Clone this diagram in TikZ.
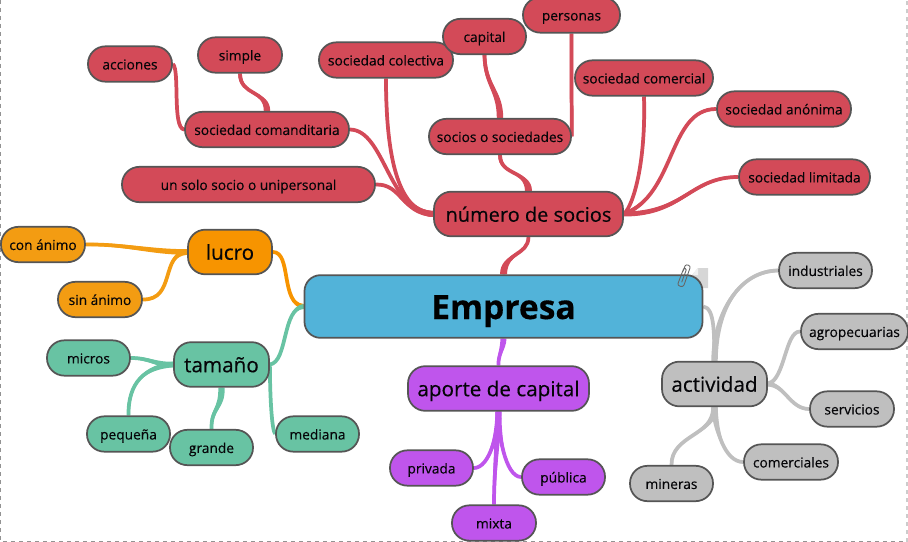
\documentclass[tikz,border=0pt]{standalone}
\usepackage{fontspec}
\setmainfont{Open Sans}[FakeBold=0.3]
\usetikzlibrary{calc,backgrounds}
\definecolor{cred}{HTML}{D34A58}
\definecolor{corg}{HTML}{F79400}
\definecolor{corgs}{HTML}{F39C12}
\definecolor{cgrn}{HTML}{68C3A3}
\definecolor{cpur}{HTML}{BF55EC}
\definecolor{cgry}{HTML}{BFBFBF}
\definecolor{cblu}{HTML}{52B3D9}
\definecolor{cbrd}{HTML}{555555}
\definecolor{ctxt}{HTML}{050508}
\newcommand{\tap}[7]{\fill[#7] ($(#1)+#5$) .. controls ($#3+#5$) and ($#4+#6$) .. ($(#2)+#6$) -- ($(#2)-#6$) .. controls ($#4-#6$) and ($#3-#5$) .. ($(#1)-#5$) -- cycle;
\draw[#7,line width=2.8pt] (#1) .. controls #3 and #4 .. (#2);}
\tikzset{
 x=0.75pt,y=-0.75pt,
 box/.style={draw=cbrd,line width=1.3pt,text=ctxt,inner sep=0pt,align=center},
 small/.style={box,rounded corners=13pt,font=\fontsize{10.3pt}{12pt}\selectfont,minimum height=26.5pt,text height=9pt,text depth=0.8pt},
 big/.style={box,rounded corners=13pt,font=\fontsize{15.5pt}{18pt}\selectfont,minimum height=33.5pt,text height=12.6pt,text depth=1pt},
 sw/.style={minimum width=#1*0.75pt},
}
\begin{document}
\begin{tikzpicture}
\useasboundingbox (0,0) rectangle (908,542);
\draw[gray!85,line width=0.8pt,dashed] (0.5,0) -- (0.5,541.5) -- (907,541.5);
\draw[gray!40,line width=0.8pt,dashed] (907,541.5) -- (907,0);
% paper note
\fill[gray!32] (698,268) -- (708,268) -- (708,288) -- (692,288) -- (692,275) -- cycle;
\fill[gray!12] (692,275) -- (698,268) -- (698,275) -- cycle;
% main
\node[box,fill=cblu,rounded corners=12pt,minimum width=298.5pt,minimum height=47pt,font=\fontsize{25.2pt}{28pt}\selectfont\bfseries,text=black,text height=20pt,text depth=1.2pt] (emp) at (503.5,306.5) {Empresa};
% level 1
\node[big,fill=cred,sw=189,font=\fontsize{15pt}{18pt}\selectfont] (num) at (528.5,214) {número de socios};
\node[big,fill=corg,sw=84] (luc) at (230,252) {lucro};
\node[big,fill=cgrn,sw=95] (tam) at (221.5,364.5) {tamaño};
\node[big,fill=cpur,sw=181] (apo) at (498.5,388.5) {aporte de capital};
\node[big,fill=cgry,sw=105] (act) at (714.5,384) {actividad};
% red
\node[small,fill=cred,sw=84] (acc) at (130,64) {acciones};
\node[small,fill=cred,sw=84] (sim) at (240,55) {simple};
\node[small,fill=cred,sw=164] (com) at (267,129.5) {sociedad comanditaria};
\node[small,fill=cred,sw=253] (uni) at (248.5,184.5) {un solo socio o unipersonal};
\node[small,fill=cred,sw=134] (col) at (386,60) {sociedad colectiva};
\node[small,fill=cred,sw=83] (cap) at (484.5,36.5) {capital};
\node[small,fill=cred,sw=97] (per) at (571.5,15) {personas};
\node[small,fill=cred,sw=142] (soc) at (500,136.5) {socios o sociedades};
\node[small,fill=cred,sw=138] (cmr) at (644,78) {sociedad comercial};
\node[small,fill=cred,sw=134] (ano) at (784,109) {sociedad anónima};
\node[small,fill=cred,sw=131] (lim) at (804.5,177) {sociedad limitada};
% orange
\node[small,fill=corgs,sw=84] (con) at (43,244.5) {con ánimo};
\node[small,fill=corgs,sw=84] (sin) at (100,299.5) {sin ánimo};
% green
\node[small,fill=cgrn,sw=83] (mic) at (88.5,358) {micros};
\node[small,fill=cgrn,sw=83] (peq) at (128.5,434) {pequeña};
\node[small,fill=cgrn,sw=83] (gra) at (211.5,447.5) {grande};
\node[small,fill=cgrn,sw=83] (med) at (317.5,434) {mediana};
% purple
\node[small,fill=cpur,sw=83] (pri) at (431.5,468) {privada};
\node[small,fill=cpur,sw=83] (pub) at (563.5,477) {pública};
\node[small,fill=cpur,sw=84] (mix) at (494,523) {mixta};
% grey
\node[small,fill=cgry,sw=93] (ind) at (825.5,270.5) {industriales};
\node[small,fill=cgry,sw=107] (agr) at (854.5,331.5) {agropecuarias};
\node[small,fill=cgry,sw=84] (ser) at (852,409) {servicios};
\node[small,fill=cgry,sw=94] (cme) at (791,462) {comerciales};
\node[small,fill=cgry,sw=83] (min) at (671.5,483.5) {mineras};
% paperclip
\draw[black!60,line width=0.65pt,line join=round] (681.7,282.3) -- (686.2,270) .. controls (686.7,268.5) and (684,267.5) .. (683.5,269) -- (678,283.5) .. controls (677,286) and (683,288) .. (684,285) -- (690,268) .. controls (691,265.5) and (686,263.5) .. (685,266) -- (683,271.5);
\begin{scope}[on background layer]
\tap{num.south}{emp.north}{(528,256)}{(504,252)}{(1.5,0)}{(3.5,0)}{cred}
\tap{luc.east}{emp.west}{(292,252)}{(280,304)}{(0,0.8)}{(0,2.5)}{corg}
\tap{tam.east}{emp.west}{(288,362)}{(282,308)}{(0,0.8)}{(0,2.5)}{cgrn}
\tap{apo.north}{emp.south}{(498,355)}{(503,350)}{(1,0)}{(3,0)}{cpur}
\tap{act.north}{emp.east}{(714,335)}{(715,308)}{(2,0)}{(0,0.8)}{cgry}
\tap{soc.south}{num.north}{(500,176)}{(528,170)}{(1.8,0)}{(3.5,0)}{cred}
\tap{cap.south}{soc.north}{(485,86)}{(500,90)}{(1.8,0)}{(3.2,0)}{cred}
\tap{per.south}{soc.east}{(571.5,70)}{(571.5,100)}{(1.6,0)}{(1.6,0)}{cred}
\tap{col.south}{num.west}{(386,150)}{(396,212)}{(1.5,0)}{(0,3)}{cred}
\tap{com.east}{num.west}{(385,130)}{(388,212)}{(0,1.5)}{(0,3)}{cred}
\tap{uni.east}{num.west}{(402,184)}{(400,212)}{(0,1.5)}{(0,3)}{cred}
\tap{acc.east}{com.west}{(180,70)}{(172,128)}{(0,1)}{(0,2)}{cred}
\tap{sim.south}{com.north}{(240,96)}{(267,90)}{(1.8,0)}{(3.2,0)}{cred}
\tap{cmr.south}{num.east}{(646,160)}{(634,205)}{(1.5,0)}{(0,2.2)}{cred}
\tap{ano.west}{num.east}{(668,109)}{(676,195)}{(0,1.5)}{(0,2.2)}{cred}
\tap{lim.west}{num.east}{(690,177)}{(684,214)}{(0,1.5)}{(0,2.5)}{cred}
\tap{con.east}{luc.west}{(125,244)}{(150,252)}{(0,1.5)}{(0,2.8)}{corgs}
\tap{sin.east}{luc.west}{(176,300)}{(160,254)}{(0,1.5)}{(0,2.8)}{corgs}
\tap{mic.east}{tam.west}{(150,358)}{(155,365)}{(0,1.5)}{(0,2.8)}{cgrn}
\tap{peq.north}{tam.west}{(128,382)}{(145,367)}{(1.5,0)}{(0,2.8)}{cgrn}
\tap{gra.north}{tam.south}{(211,408)}{(222,410)}{(1.5,0)}{(3.2,0)}{cgrn}
\tap{med.west}{tam.east}{(272,430)}{(270,400)}{(0,1)}{(0,2)}{cgrn}
\tap{pri.east}{apo.south}{(490,468)}{(498,432)}{(0,1.5)}{(3,0)}{cpur}
\tap{pub.west}{apo.south}{(505,477)}{(498,432)}{(0,1.5)}{(3,0)}{cpur}
\tap{mix.north}{apo.south}{(494,470)}{(498,440)}{(1.5,0)}{(3,0)}{cpur}
\tap{ind.west}{act.north}{(740,271)}{(715,310)}{(0,1.8)}{(3.2,0)}{cgry}
\tap{agr.west}{act.east}{(785,331)}{(785,380)}{(0,1.5)}{(0,2.5)}{cgry}
\tap{ser.west}{act.east}{(790,409)}{(785,385)}{(0,1.5)}{(0,2.5)}{cgry}
\tap{cme.west}{act.south}{(725,462)}{(715,430)}{(0,1.5)}{(3.2,0)}{cgry}
\tap{min.north}{act.south}{(671,435)}{(715,435)}{(1.5,0)}{(3.2,0)}{cgry}
\end{scope}
\end{tikzpicture}
\end{document}
